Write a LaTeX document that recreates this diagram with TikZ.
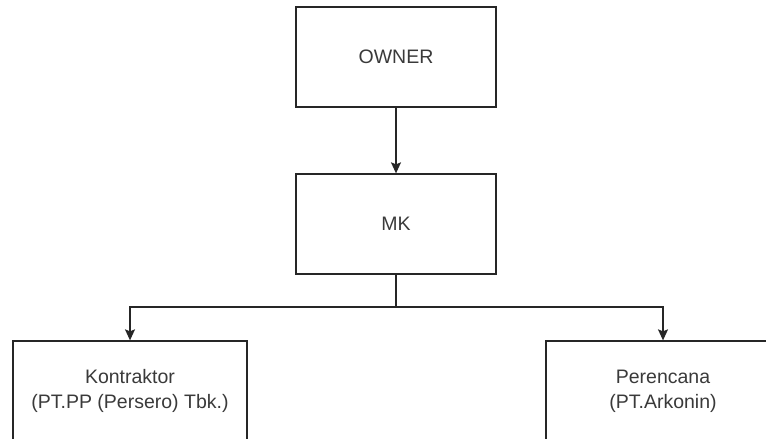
\documentclass[tikz,border=0pt]{standalone}
\usepackage{fontspec}
\setmainfont{Liberation Sans}
\usetikzlibrary{arrows.meta}
\definecolor{linegray}{HTML}{262626}
\definecolor{textgray}{HTML}{3A3A3A}
\tikzset{
  orgbox/.style={draw=linegray, line width=1.3pt, minimum height=100pt, align=center,
    text=textgray, font=\fontsize{19.5}{25}\selectfont, inner sep=0pt},
  link/.style={draw=linegray, line width=1.3pt, -{Stealth[length=11pt,width=10pt,inset=2pt]}}
}
\begin{document}
\begin{tikzpicture}[x=1pt,y=-1pt]
\clip (0,0) rectangle (766,439);
\fill[white] (0,0) rectangle (766,439);
\node[orgbox, minimum width=200pt] (owner) at (396,57) {OWNER};
\node[orgbox, minimum width=200pt] (mk) at (396,224) {MK};
\node[orgbox, minimum width=234pt] (kontraktor) at (130,391) {Kontraktor\\(PT.PP (Persero) Tbk.)};
\node[orgbox, minimum width=234pt] (perencana) at (663,391) {Perencana\\(PT.Arkonin)};
\coordinate (split) at (396,307);
\draw[link] (owner) -- (mk);
\draw[link] (mk) -- (split) -| (kontraktor);
\draw[link] (split) -| (perencana);
\end{tikzpicture}
\end{document}
